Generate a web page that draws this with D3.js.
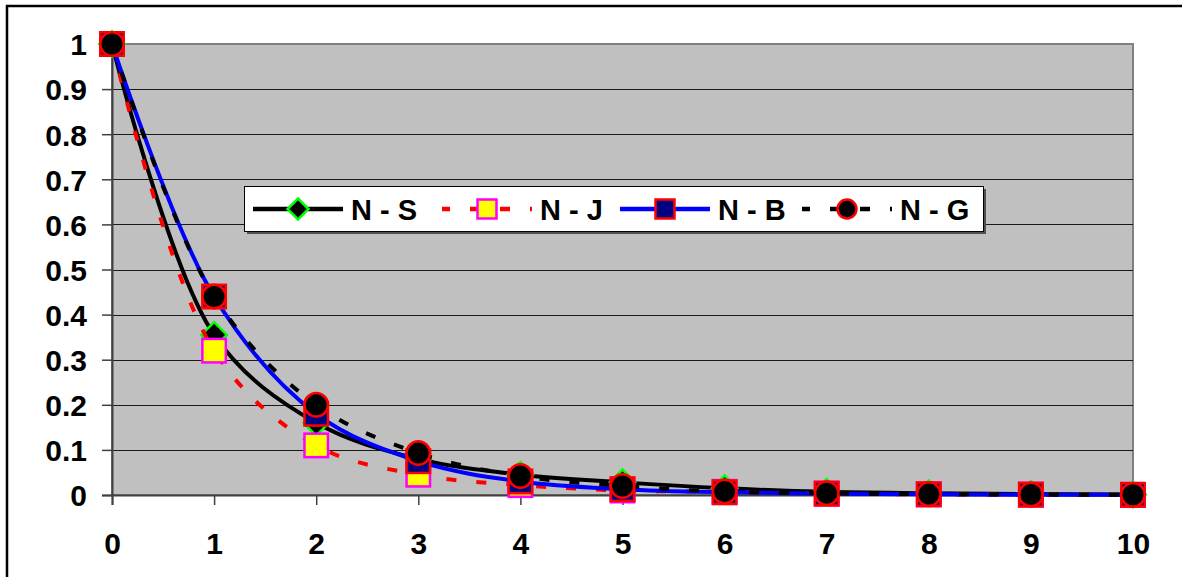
<!DOCTYPE html>
<html><head><meta charset="utf-8">
<script src="https://cdn.jsdelivr.net/npm/d3@7"></script>
<style>
html,body{margin:0;padding:0;background:#fff;}
svg{display:block;}
text{font-family:"Liberation Sans",Arial,sans-serif;font-weight:bold;fill:#000;}
</style></head>
<body>
<svg id="chart" width="1182" height="577"></svg>
<script>
const xValues = [0,1,2,3,4,5,6,7,8,9,10];
const seriesNames = ["N - S","N - J","N - B","N - G"];
const nS = [1,0.355,0.16,0.08,0.045,0.028,0.015,0.007,0.004,0.002,0.001];
const nJ = [1,0.32,0.11,0.045,0.022,0.01,0.007,0.003,0.0015,0.0008,0.0004];
const nB = [1,0.44,0.18,0.075,0.03,0.013,0.006,0.003,0.0015,0.0007,0.0003];
const nG = [1,0.44,0.20,0.093,0.042,0.02,0.0075,0.004,0.002,0.001,0.0005];
const yTicks = [0,0.1,0.2,0.3,0.4,0.5,0.6,0.7,0.8,0.9,1];
const xTicks = [0,1,2,3,4,5,6,7,8,9,10];

const svg = d3.select("#chart");
const L=112, R=1133, T=44, B=495;
const x = d3.scaleLinear().domain([0,10]).range([L,R]);
const y = d3.scaleLinear().domain([0,1]).range([B,T]);

// outer frame
svg.append("rect").attr("x",7).attr("y",6).attr("width",1300).attr("height",700)
  .attr("fill","#fff").attr("stroke","#000").attr("stroke-width",2.5);

// plot background
svg.append("rect").attr("x",L).attr("y",T).attr("width",R-L).attr("height",B-T)
  .attr("fill","#C0C0C0").attr("stroke","#808080").attr("stroke-width",2);

// gridlines
svg.append("g").selectAll("line").data(yTicks.filter(d=>d>0&&d<1)).join("line")
  .attr("x1",L).attr("x2",R).attr("y1",d=>Math.round(y(d))+0.5).attr("y2",d=>Math.round(y(d))+0.5)
  .attr("stroke","#1a1a1a").attr("stroke-width",1);

// axes
const fmt = d => d===0?"0":(d===1?"1":d3.format(".1f")(d));
const yAxis = svg.append("g").attr("transform",`translate(${L},0)`)
  .call(d3.axisLeft(y).tickValues(yTicks).tickFormat(fmt).tickSize(10).tickPadding(15));
const xAxis = svg.append("g").attr("transform",`translate(0,${B})`)
  .call(d3.axisBottom(x).tickValues(xTicks).tickFormat(d3.format("d")).tickSize(10).tickPadding(28));
[yAxis,xAxis].forEach(g=>{
  g.select(".domain").attr("stroke","#404040").attr("stroke-width",2);
  g.selectAll(".tick line").attr("stroke","#404040").attr("stroke-width",1.5);
  g.selectAll("text").attr("font-size",30).attr("font-family","'Liberation Sans',Arial,sans-serif").attr("font-weight","bold").attr("fill","#000");
});
yAxis.selectAll("text").attr("dy","0.36em");

const series = [
  {name:seriesNames[0], vals:nS, color:"#000", dash:null, marker:"diamond", fill:"#000", mstroke:"#00FF00"},
  {name:seriesNames[1], vals:nJ, color:"#FF0000", dash:"10,20", marker:"square", fill:"#FFFF00", mstroke:"#FF00FF"},
  {name:seriesNames[2], vals:nB, color:"#0000FF", dash:null, marker:"square", fill:"#000080", mstroke:"#FF0000"},
  {name:seriesNames[3], vals:nG, color:"#000", dash:"10,20", marker:"circle", fill:"#000", mstroke:"#FF0000"}
];

const line = d3.line().x((d,i)=>x(xValues[i])).y(d=>y(d)).curve(d3.curveCatmullRom.alpha(0.5));

function drawMarker(g, type, cx, cy, s, fill, stroke){
  if(type==="square"){
    g.append("rect").attr("x",cx-s/2).attr("y",cy-s/2).attr("width",s).attr("height",s)
      .attr("fill",fill).attr("stroke",stroke).attr("stroke-width",2.5);
  } else if(type==="circle"){
    g.append("circle").attr("cx",cx).attr("cy",cy).attr("r",s/2)
      .attr("fill",fill).attr("stroke",stroke).attr("stroke-width",2.5);
  } else {
    const h=s/2+1;
    g.append("path").attr("d",`M${cx},${cy-h}L${cx+h},${cy}L${cx},${cy+h}L${cx-h},${cy}Z`)
      .attr("fill",fill).attr("stroke",stroke).attr("stroke-width",2.5);
  }
}

series.forEach(s=>{
  const g = svg.append("g");
  g.append("path").attr("d",line(s.vals)).attr("fill","none").attr("stroke",s.color)
    .attr("stroke-width",4).attr("stroke-dasharray",s.dash);
  s.vals.forEach((v,i)=>drawMarker(g, s.marker, x(xValues[i]), y(v), 23.5, s.fill, s.mstroke));
});

// legend
const lg = svg.append("g");
lg.append("rect").attr("x",247).attr("y",189).attr("width",739).attr("height",45).attr("fill","#505050");
lg.append("rect").attr("x",244.5).attr("y",186.5).attr("width",739).attr("height",45)
  .attr("fill","#fff").attr("stroke","#000").attr("stroke-width",1);
const lineStarts = [253,442,620,802];
series.forEach((s,i)=>{
  const x0 = lineStarts[i], ly = 209;
  lg.append("line").attr("x1",x0).attr("x2",x0+90).attr("y1",ly).attr("y2",ly)
    .attr("stroke",s.color).attr("stroke-width",4.5).attr("stroke-dasharray",s.dash?"10,20":null)
    .attr("stroke-dashoffset",s.dash?-28:null);
  drawMarker(lg, s.marker, x0+45, ly, 19, s.fill, s.mstroke);
  lg.append("text").attr("x",x0+98).attr("y",220).attr("font-size",29).text(s.name);
});
</script>
</body></html>
